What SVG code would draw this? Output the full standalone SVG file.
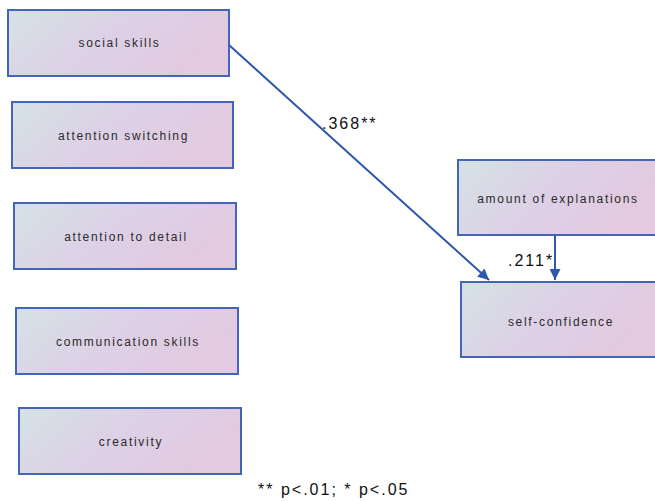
<svg xmlns="http://www.w3.org/2000/svg" width="655" height="501" viewBox="0 0 655 501">
<defs>
<linearGradient id="g" x1="0" y1="0" x2="1" y2="0.35">
<stop offset="0" stop-color="#d5e2e6"/>
<stop offset="0.55" stop-color="#ddd0e6"/>
<stop offset="1" stop-color="#e2cae0"/>
</linearGradient>
<marker id="ah" viewBox="0 0 10 10" refX="10" refY="5" markerWidth="6.5" markerHeight="5.5" orient="auto" markerUnits="strokeWidth">
<path d="M0,0 L10,5 L0,10 z" fill="#2d58ae"/>
</marker>
<style>
.box{fill:url(#g);stroke:#4466b8;stroke-width:2}
.lbl{font-family:"Liberation Sans",Arial,sans-serif;font-size:12px;letter-spacing:1.7px;text-anchor:middle;fill:#2a2a2a}
.num{font-family:"Liberation Sans",Arial,sans-serif;font-size:16px;letter-spacing:2px;fill:#111}
.edge{stroke:#2d58ae;stroke-width:2;fill:none;marker-end:url(#ah)}
</style>
</defs>
<rect width="655" height="501" fill="#fff"/>
<g id="social_skills"><rect class="box" x="8" y="10" width="221" height="66"/><text class="lbl" x="119.5" y="47">social skills</text></g>
<g id="attention_switching"><rect class="box" x="12" y="102" width="221" height="66"/><text class="lbl" x="123.5" y="140">attention switching</text></g>
<g id="attention_to_detail"><rect class="box" x="14" y="203" width="222" height="66"/><text class="lbl" x="126" y="241">attention to detail</text></g>
<g id="communication_skills"><rect class="box" x="16" y="308" width="222" height="66"/><text class="lbl" x="128" y="346">communication skills</text></g>
<g id="creativity"><rect class="box" x="19" y="408" width="222" height="66"/><text class="lbl" x="131" y="446">creativity</text></g>
<g id="amount_of_explanations"><rect class="box" x="458" y="160" width="199" height="75"/><text class="lbl" x="558" y="203">amount of explanations</text></g>
<g id="self_confidence"><rect class="box" x="461" y="282" width="196" height="75"/><text class="lbl" x="561" y="326">self-confidence</text></g>
<g id="connectors">
<line class="edge" x1="229" y1="45" x2="489" y2="280"/>
<line class="edge" x1="555" y1="235" x2="555" y2="280"/>
</g>
<text class="num" x="322" y="129">.368**</text>
<text class="num" x="508" y="266">.211*</text>
<text class="num" x="258" y="495">** p&lt;.01; * p&lt;.05</text>
</svg>
